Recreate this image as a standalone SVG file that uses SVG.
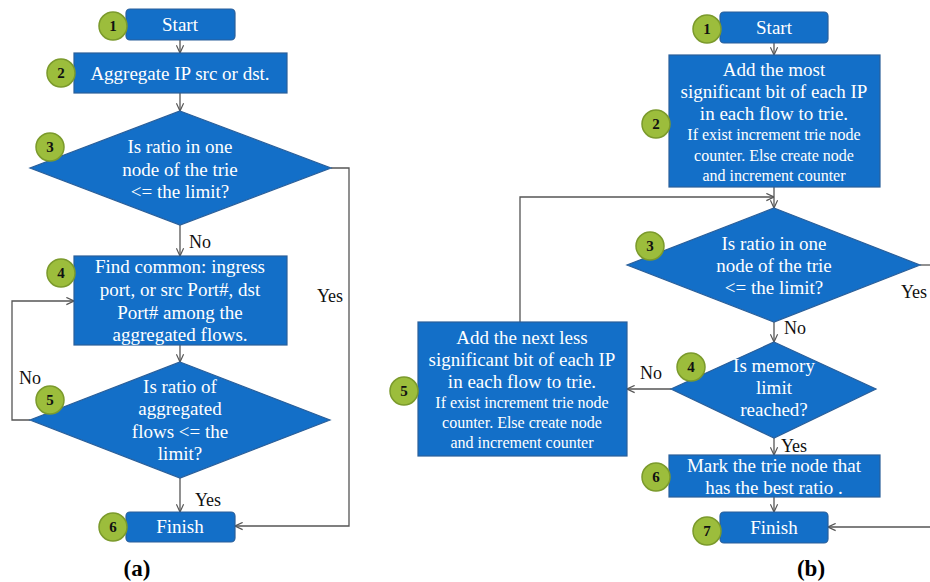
<svg xmlns="http://www.w3.org/2000/svg" width="930" height="582" viewBox="0 0 930 582">
<defs>
<style>
.box{fill:#136fc8;stroke:#2a5f9a;stroke-width:1.2}
.num{fill:#9cbd3c;stroke:#7b9a2c;stroke-width:1.5}
.nt{font-family:"Liberation Serif",serif;font-weight:bold;font-size:15px;fill:#111;text-anchor:middle}
.t{font-family:"Liberation Serif",serif;font-size:19px;fill:#fff;text-anchor:middle}
.ts{font-family:"Liberation Serif",serif;font-size:16px;fill:#fff;text-anchor:middle}
.lbl{font-family:"Liberation Serif",serif;font-size:18px;fill:#111;text-anchor:middle}
.cap{font-family:"Liberation Serif",serif;font-size:23px;font-weight:bold;fill:#000;text-anchor:middle}
.ln{fill:none;stroke:#555;stroke-width:1.3}
</style>
<marker id="ah" viewBox="0 0 10 10" refX="9.5" refY="5" markerWidth="9" markerHeight="9" markerUnits="userSpaceOnUse" orient="auto">
<path d="M1,1 L9.5,5 L1,9" fill="none" stroke="#555" stroke-width="1.3"/>
</marker>
</defs>
<rect width="930" height="582" fill="#fff"/>

<g id="connectors">
<line class="ln" x1="180" y1="40" x2="180" y2="53" marker-end="url(#ah)"/>
<line class="ln" x1="180" y1="93" x2="180" y2="111" marker-end="url(#ah)"/>
<line class="ln" x1="180" y1="225" x2="180" y2="256" marker-end="url(#ah)"/>
<line class="ln" x1="180" y1="345" x2="180" y2="362" marker-end="url(#ah)"/>
<line class="ln" x1="180" y1="478" x2="180" y2="512" marker-end="url(#ah)"/>
<polyline class="ln" points="331,168 349,168 349,526 235,526" marker-end="url(#ah)"/>
<polyline class="ln" points="30,420 12,420 12,301 74,301" marker-end="url(#ah)"/>
<line class="ln" x1="774" y1="43" x2="774" y2="55" marker-end="url(#ah)"/>
<line class="ln" x1="774" y1="187" x2="774" y2="208" marker-end="url(#ah)"/>
<polyline class="ln" points="520,322 520,197 774,197" marker-end="url(#ah)"/>
<line class="ln" x1="774" y1="322" x2="774" y2="342" marker-end="url(#ah)"/>
<line class="ln" x1="671" y1="389" x2="627" y2="389" marker-end="url(#ah)"/>
<line class="ln" x1="774" y1="438" x2="774" y2="455" marker-end="url(#ah)"/>
<line class="ln" x1="774" y1="497" x2="774" y2="512" marker-end="url(#ah)"/>
<line class="ln" x1="920" y1="265" x2="930" y2="265"/>
<line class="ln" x1="931" y1="527" x2="828" y2="527" marker-end="url(#ah)"/>
</g>

<g id="labels">
<text class="lbl" x="200" y="248">No</text>
<text class="lbl" x="330" y="302">Yes</text>
<text class="lbl" x="30" y="384">No</text>
<text class="lbl" x="208" y="506">Yes</text>
<text class="lbl" x="795" y="334">No</text>
<text class="lbl" x="651" y="379">No</text>
<text class="lbl" x="794" y="452">Yes</text>
<text class="lbl" x="914" y="298">Yes</text>
<text class="cap" x="137" y="576">(a)</text>
<text class="cap" x="811" y="576">(b)</text>
</g>

<g id="a1">
<rect class="box" x="126" y="9" width="109" height="31" rx="4"/>
<text class="t" x="180" y="31">Start</text>
<circle class="num" cx="113" cy="26" r="14"/><text class="nt" x="113" y="31">1</text>
</g>
<g id="a2">
<rect class="box" x="74" y="53" width="213" height="40"/>
<text class="t" x="180" y="80">Aggregate IP src or dst.</text>
<circle class="num" cx="61" cy="73" r="14"/><text class="nt" x="61" y="78">2</text>
</g>
<g id="a3">
<polygon class="box" points="180,111 331,168 180,225 30,168"/>
<text class="t" x="180" y="153">Is ratio in one</text>
<text class="t" x="180" y="176">node of the trie</text>
<text class="t" x="180" y="198">&lt;= the limit?</text>
<circle class="num" cx="50" cy="147" r="14"/><text class="nt" x="50" y="152">3</text>
</g>
<g id="a4">
<rect class="box" x="74" y="256" width="213" height="89"/>
<text class="t" x="180" y="273">Find common: ingress</text>
<text class="t" x="180" y="296">port, or src Port#, dst</text>
<text class="t" x="180" y="319">Port# among the</text>
<text class="t" x="180" y="341">aggregated flows.</text>
<circle class="num" cx="61" cy="273" r="14"/><text class="nt" x="61" y="278">4</text>
</g>
<g id="a5">
<polygon class="box" points="180,362 330,420 180,478 30,420"/>
<text class="t" x="180" y="393">Is ratio of</text>
<text class="t" x="180" y="415">aggregated</text>
<text class="t" x="180" y="438">flows &lt;= the</text>
<text class="t" x="180" y="460">limit?</text>
<circle class="num" cx="50" cy="400" r="14"/><text class="nt" x="50" y="405">5</text>
</g>
<g id="a6">
<rect class="box" x="126" y="512" width="109" height="30" rx="4"/>
<text class="t" x="180" y="533">Finish</text>
<circle class="num" cx="113" cy="527" r="14"/><text class="nt" x="113" y="532">6</text>
</g>

<g id="b1">
<rect class="box" x="720" y="12" width="108" height="31" rx="4"/>
<text class="t" x="774" y="34">Start</text>
<circle class="num" cx="707" cy="29" r="14"/><text class="nt" x="707" y="34">1</text>
</g>
<g id="b2">
<rect class="box" x="669" y="55" width="211" height="132"/>
<text class="t" x="774" y="76">Add the most</text>
<text class="t" x="774" y="98">significant bit of each IP</text>
<text class="t" x="774" y="120">in each flow to trie.</text>
<text class="ts" x="774" y="140">If exist increment trie node</text>
<text class="ts" x="774" y="161">counter. Else create node</text>
<text class="ts" x="774" y="181">and increment counter</text>
<circle class="num" cx="656" cy="124" r="14"/><text class="nt" x="656" y="129">2</text>
</g>
<g id="b3">
<polygon class="box" points="774,208 920,265 774,322 627,265"/>
<text class="t" x="774" y="250">Is ratio in one</text>
<text class="t" x="774" y="272">node of the trie</text>
<text class="t" x="774" y="294">&lt;= the limit?</text>
<circle class="num" cx="650" cy="246" r="14"/><text class="nt" x="650" y="251">3</text>
</g>
<g id="b4">
<polygon class="box" points="774,342 876,389 774,438 671,389"/>
<text class="t" x="774" y="372">Is memory</text>
<text class="t" x="774" y="394">limit</text>
<text class="t" x="774" y="416">reached?</text>
<circle class="num" cx="691" cy="367" r="14"/><text class="nt" x="691" y="372">4</text>
</g>
<g id="b5">
<rect class="box" x="418" y="322" width="209" height="134"/>
<text class="t" x="522" y="344">Add the next less</text>
<text class="t" x="522" y="366">significant bit of each IP</text>
<text class="t" x="522" y="388">in each flow to trie.</text>
<text class="ts" x="522" y="408">If exist increment trie node</text>
<text class="ts" x="522" y="428">counter. Else create node</text>
<text class="ts" x="522" y="448">and increment counter</text>
<circle class="num" cx="404" cy="391" r="14"/><text class="nt" x="404" y="396">5</text>
</g>
<g id="b6">
<rect class="box" x="669" y="455" width="211" height="42"/>
<text class="t" x="774" y="472">Mark the trie node that</text>
<text class="t" x="774" y="494">has the best ratio .</text>
<circle class="num" cx="656" cy="477" r="14"/><text class="nt" x="656" y="482">6</text>
</g>
<g id="b7">
<rect class="box" x="720" y="512" width="108" height="31" rx="4"/>
<text class="t" x="774" y="534">Finish</text>
<circle class="num" cx="707" cy="531" r="14"/><text class="nt" x="707" y="536">7</text>
</g>
</svg>
